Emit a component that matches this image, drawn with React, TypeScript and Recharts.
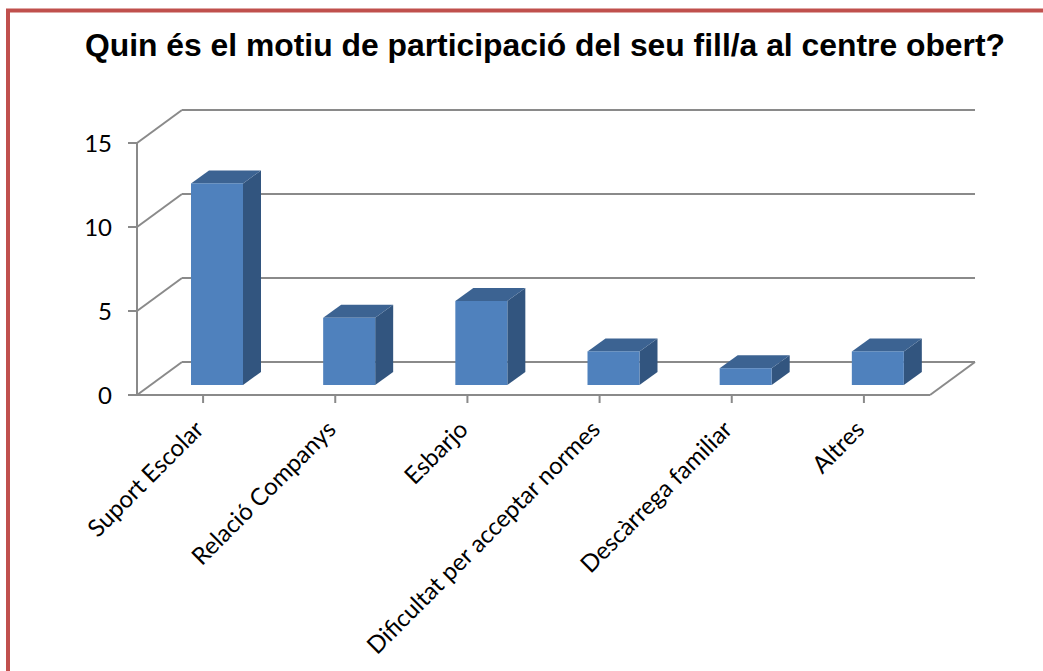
import { BarChart, Bar, XAxis, YAxis, CartesianGrid, ReferenceLine } from "recharts";

const categories = [
  "Suport Escolar",
  "Relació Companys",
  "Esbarjo",
  "Dificultat per acceptar normes",
  "Descàrrega familiar",
  "Altres",
];
const values = [12, 4, 5, 2, 1, 2];
const yTicks = [0, 5, 10, 15];

const TITLE = "Quin és el motiu de participació del seu fill/a al centre obert?";

// 3d look: wall depth and bar position inside it
const WALL_DX = 45;
const WALL_DY = -33;
const BAR_SHIFT_X = 14;
const BAR_SHIFT_Y = -10;
const BAR_DX = 18;
const BAR_DY = -13;

const GRID = "#8a8a8a";
const FRONT = "#4f81bd";
const TOP = "#3c6392";
const SIDE = "#32557f";
const FONT = "Lato, 'Open Sans', sans-serif";

const data = categories.map((name, i) => ({ name, value: values[i] }));

function Box3D(props: any) {
  const { x, y, width, height } = props;
  if (width == null || height == null) return null;
  const fx = x + BAR_SHIFT_X;
  const fy = y + BAR_SHIFT_Y;
  const top = `${fx},${fy} ${fx + BAR_DX},${fy + BAR_DY} ${fx + width + BAR_DX},${fy + BAR_DY} ${fx + width},${fy}`;
  const side = `${fx + width},${fy} ${fx + width + BAR_DX},${fy + BAR_DY} ${fx + width + BAR_DX},${fy + height + BAR_DY} ${fx + width},${fy + height}`;
  return (
    <g>
      <polygon points={side} fill={SIDE} />
      <polygon points={top} fill={TOP} />
      <rect x={fx} y={fy} width={width} height={height} fill={FRONT} />
    </g>
  );
}

function WallLine(p: any) {
  return (
    <g key={p.key}>
      <line x1={p.x1} y1={p.y1} x2={p.x1 + WALL_DX} y2={p.y1 + WALL_DY} stroke={GRID} strokeWidth={2} />
      <line
        x1={p.x1 + WALL_DX}
        y1={p.y1 + WALL_DY}
        x2={p.x2 + WALL_DX}
        y2={p.y2 + WALL_DY}
        stroke={GRID}
        strokeWidth={2}
      />
    </g>
  );
}

function FloorEdge(p: any) {
  return (
    <line x1={p.x2} y1={p.y2} x2={p.x2 + WALL_DX} y2={p.y2 + WALL_DY} stroke={GRID} strokeWidth={2} />
  );
}

function CategoryTick(props: any) {
  const { x, y, payload } = props;
  const tx = x + 2;
  const ty = y + 26;
  return (
    <text
      x={tx}
      y={ty}
      textAnchor="end"
      fontSize={24}
      fontFamily={FONT}
      fill="#000"
      transform={`rotate(-45 ${tx} ${ty})`}
    >
      {payload.value}
    </text>
  );
}

export default function App() {
  return (
    <div style={{ position: "absolute", left: 0, top: 0, width: 1043, height: 671, background: "#fff" }}>
      <svg width={1043} height={671} style={{ position: "absolute", left: 0, top: 0 }}>
        <line x1={6} y1={10.5} x2={1043} y2={10.5} stroke="#c0504d" strokeWidth={4} />
        <line x1={8} y1={9} x2={8} y2={671} stroke="#c0504d" strokeWidth={4} />
        <text
          x={85}
          y={56}
          fontSize={32}
          fontWeight="bold"
          fontFamily="'Liberation Sans', Arial, sans-serif"
          textLength={920}
          lengthAdjust="spacingAndGlyphs"
          fill="#000"
        >
          {TITLE}
        </text>
      </svg>
      <div style={{ position: "absolute", left: 0, top: 0 }}>
        <BarChart
          width={1043}
          height={671}
          data={data}
          margin={{ top: 143, right: 113, bottom: 76, left: 97 }}
          barSize={52}
        >
          <CartesianGrid vertical={false} horizontal={WallLine} />
          <ReferenceLine y={0} shape={FloorEdge} />
          <XAxis
            dataKey="name"
            height={200}
            interval={0}
            tickSize={8}
            axisLine={{ stroke: GRID, strokeWidth: 2 }}
            tickLine={{ stroke: GRID, strokeWidth: 2 }}
            tick={<CategoryTick />}
          />
          <YAxis
            width={40}
            domain={[0, 15]}
            ticks={yTicks}
            tickSize={9}
            tickMargin={16}
            axisLine={{ stroke: GRID, strokeWidth: 2 }}
            tickLine={{ stroke: GRID, strokeWidth: 2 }}
            tick={{ fill: "#000", fontSize: 24, fontFamily: FONT }}
          />
          <Bar dataKey="value" shape={Box3D} isAnimationActive={false} />
        </BarChart>
      </div>
    </div>
  );
}
